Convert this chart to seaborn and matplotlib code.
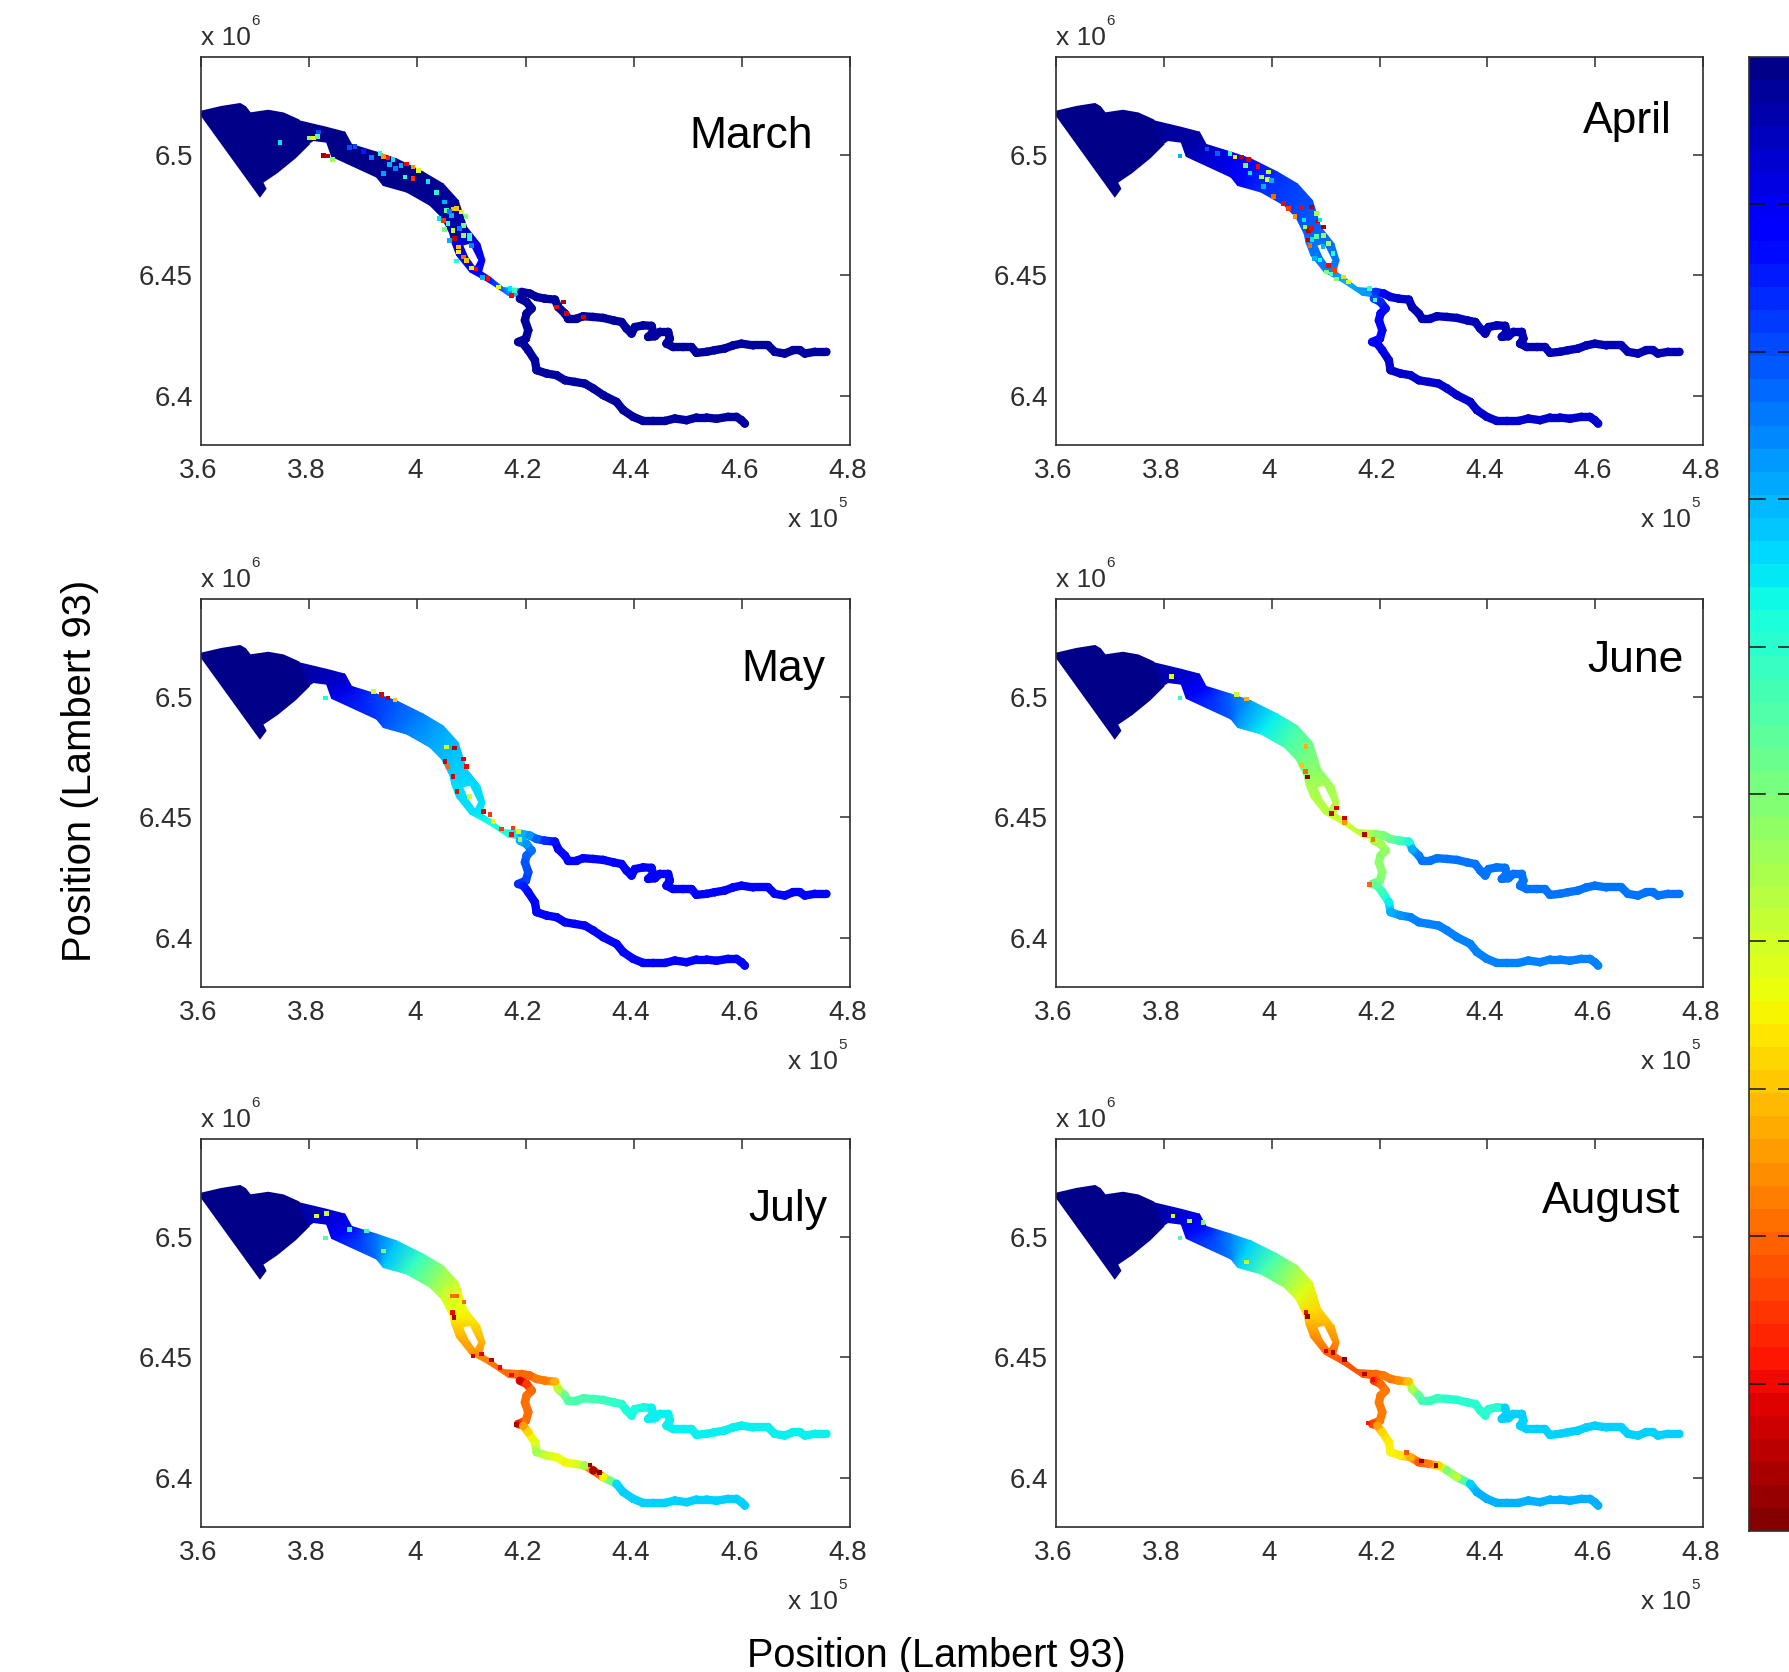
import numpy as np
import pandas as pd
import matplotlib
matplotlib.use('Agg')
import matplotlib.pyplot as plt
import seaborn as sns
from matplotlib.collections import LineCollection
from matplotlib.transforms import ScaledTranslation

W, H = 1790, 1672

months = ['March', 'April', 'May', 'June', 'July', 'August']
x_ticks = [3.6, 3.8, 4.0, 4.2, 4.4, 4.6, 4.8]
x_tick_labels = ['3.6', '3.8', '4', '4.2', '4.4', '4.6', '4.8']
y_ticks = [6.4, 6.45, 6.5]
y_tick_labels = ['6.4', '6.45', '6.5']
cbar_ticks = [0.1, 0.2, 0.3, 0.4, 0.5, 0.6, 0.7, 0.8, 0.9]

# estuary mouth outline (always fully dark)
mouth_x = [3.6, 3.6382, 3.6721, 3.6813, 3.6906, 3.7244, 3.7522, 3.7799, 3.7984, 3.7737, 3.7398, 3.7121, 3.7183, 3.7090, 3.6]
mouth_y = [6.5178, 6.5198, 6.5210, 6.5198, 6.5171, 6.5182, 6.5171, 6.5143, 6.5046, 6.4991, 6.4929, 6.4887, 6.4860, 6.4832, 6.5171]

# estuary cross sections, north bank and south bank
bank_n_x = [3.7799, 3.8322, 3.8661, 3.8784, 3.9246, 3.9616, 4.0109, 4.0478, 4.0756, 4.0910, 4.1158, 4.1250, 4.1189, 4.1343, 4.1589, 4.1897]
bank_n_y = [6.5143, 6.5115, 6.5095, 6.5044, 6.5012, 6.4984, 6.4929, 6.4880, 6.4811, 6.4701, 6.4631, 6.4562, 6.4515, 6.4493, 6.4449, 6.4445]
bank_s_x = [3.7984, 3.8076, 3.8322, 3.8415, 3.9246, 3.9370, 3.9801, 4.0232, 4.0448, 4.0602, 4.0634, 4.0727, 4.0973, 4.1312, 4.1681, 4.1897]
bank_s_y = [6.5046, 6.5060, 6.5053, 6.4994, 6.4908, 6.4873, 6.4846, 6.4791, 6.4742, 6.4673, 6.4638, 6.4583, 6.4514, 6.4472, 6.4417, 6.4410]

island_x = [4.0850, 4.0973, 4.1127, 4.1065, 4.0942]
island_y = [6.4624, 6.4631, 6.4562, 6.4537, 6.4576]

estuary_march = [.01, .01, .01, .01, .01, .01, .015, .02, .03, .05, .08, .1, .12, .15, .25, .35]
estuary_april = [.02, .03, .03, .05, .1, .13, .17, .19, .2, .22, .24, .24, .25, .3, .28, .27]
estuary_may = [.03, .05, .06, .09, .18, .21, .25, .29, .31, .33, .34, .34, .35, .38, .4, .34]
estuary_june = [.03, .06, .08, .12, .22, .28, .36, .44, .48, .52, .55, .56, .58, .6, .58, .55]
estuary_july = [.03, .07, .08, .12, .24, .32, .42, .52, .6, .64, .68, .72, .75, .78, .8, .78]
estuary_august = [.03, .07, .09, .14, .25, .33, .44, .54, .62, .68, .72, .76, .8, .82, .82, .8]

# north branch (Dordogne)
north_x = [4.1928, 4.2082, 4.2205, 4.2359, 4.2544, 4.2605, 4.2729, 4.2790, 4.2944, 4.3067, 4.3252, 4.3437, 4.3622, 4.3776, 4.3868,
           4.3961, 4.4022, 4.4176, 4.4330, 4.4361, 4.4269, 4.4392, 4.4484, 4.4638, 4.4669, 4.4607, 4.4731, 4.4915, 4.5069, 4.5162,
           4.5347, 4.5501, 4.5685, 4.5839, 4.5993, 4.6209, 4.6486, 4.6609, 4.6794, 4.6948, 4.7071, 4.7164, 4.7349, 4.7564]
north_y = [6.4431, 6.4424, 6.4410, 6.4403, 6.4399, 6.4368, 6.4341, 6.4320, 6.4320, 6.4330, 6.4327, 6.4323, 6.4313, 6.4306, 6.4279,
           6.4258, 6.4285, 6.4292, 6.4290, 6.4265, 6.4244, 6.4247, 6.4265, 6.4265, 6.4237, 6.4216, 6.4202, 6.4202, 6.4202, 6.4178,
           6.4182, 6.4189, 6.4196, 6.4209, 6.4216, 6.4209, 6.4209, 6.4182, 6.4175, 6.4189, 6.4189, 6.4175, 6.4182, 6.4182]

# south branch (Garonne)
south_x = [4.1897, 4.2020, 4.2113, 4.2020, 4.1989, 4.2051, 4.2008, 4.1866, 4.1959, 4.2051, 4.2174, 4.2205, 4.2390, 4.2575, 4.2729, 4.2913, 4.3098,
           4.3252, 4.3437, 4.3683, 4.3807, 4.3991, 4.4176, 4.4361, 4.4577, 4.4761, 4.4977, 4.5162, 4.5347, 4.5531, 4.5747, 4.5901, 4.5993, 4.6055]
south_y = [6.4403, 6.4389, 6.4362, 6.4341, 6.4313, 6.4272, 6.4237, 6.4223, 6.4216, 6.4189, 6.4147, 6.4106, 6.4092, 6.4085, 6.4064, 6.4057, 6.4050,
           6.4030, 6.4002, 6.3974, 6.3940, 6.3912, 6.3895, 6.3895, 6.3895, 6.3905, 6.3898, 6.3909, 6.3909, 6.3904, 6.3912, 6.3912, 6.3898, 6.3884]

north_march = [.03] * 44
north_april = [.17, .12, .08, .07, .07] + [.05] * 39
north_may = [.3, .27, .22, .17, .14, .12, .11] + [.11] * 37
north_june = [.52, .5, .47, .44, .38, .3, .25] + [.24] * 37
north_july = [.8, .8, .78, .78, .72, .58, .48, .45, .44, .44, .43, .42, .41, .40, .38, .38, .38, .38] + [.36] * 26
north_august = [.8, .78, .78, .76, .7, .56, .47, .43, .42, .42] + [.4] * 8 + [.33] * 26

south_march = [.03] * 34
south_april = [.2, .16, .14, .13, .13, .12, .12, .11, .1, .09] + [.07] * 24
south_may = [.3, .27, .24, .22, .21, .2, .19, .17, .15, .13] + [.12] * 24
south_june = [.56, .55, .53, .52, .52, .52, .5, .48, .45, .42, .36, .3, .27] + [.25] * 21
south_july = [.92, .85, .8, .79, .79, .79, .79, .88, .74, .68, .62, .55, .6, .63, .65, .62, .55, .96, .65, .34] + [.33] * 14
south_august = [.85, .8, .78, .78, .78, .78, .78, .84, .74, .68, .66, .65, .66, .72, .82, .78, .68, .5, .58, .33] + [.3] * 14

# isolated cells that stand out from their neighbours
cells_march_x = [3.746, 3.801, 3.808, 3.815, 3.817, 3.826, 3.835, 3.843, 3.875, 3.931, 3.938, 3.946, 3.955, 3.949, 3.937, 3.980, 3.992, 4.002, 3.992, 3.977,
                 4.054, 4.072, 4.063, 4.048, 4.069, 4.066, 4.085, 4.097, 4.076, 4.085, 4.066, 4.082, 4.057, 4.085, 4.097, 4.076, 4.091, 4.107, 4.131, 4.150,
                 4.174, 4.180, 4.171, 4.270, 4.257, 4.276, 4.307,
                 3.885, 3.900, 3.915, 3.960, 3.970, 4.020, 4.035, 4.050, 4.060, 4.040, 4.050, 4.060, 4.078, 4.090, 4.100, 4.072, 4.100, 4.120]
cells_march_y = [6.5053, 6.5071, 6.5071, 6.5077, 6.5095, 6.4998, 6.4995, 6.4981, 6.5032, 6.5005, 6.4994, 6.4988, 6.4980, 6.4961, 6.4922, 6.4963, 6.4950, 6.4936, 6.4901, 6.4908,
                 6.4770, 6.4777, 6.4749, 6.4728, 6.4652, 6.4687, 6.4666, 6.4666, 6.4618, 6.4576, 6.4776, 6.4763, 6.4714, 6.4707, 6.4652, 6.4597, 6.4562, 6.4527, 6.4486, 6.4451,
                 6.4417, 6.4438, 6.4445, 6.4389, 6.4368, 6.4341, 6.4327,
                 6.5035, 6.5015, 6.4990, 6.4945, 6.4955, 6.4890, 6.4845, 6.4805, 6.4765, 6.4735, 6.4690, 6.4645, 6.4695, 6.4745, 6.4625, 6.4560, 6.4530, 6.4490]
cells_march_v = [.35, .55, .65, .45, .2, .97, .95, .55, .2, .4, .75, .88, .35, .3, .28, .9, .75, .62, .85, .4,
                 .45, .7, .3, .85, .95, .6, .55, .4, .7, .8, .7, .6, .4, .5, .4, .65, .7, .9, .9, .65,
                 .9, .42, .35, .95, .9, .92, .92,
                 .2, .15, .25, .25, .3, .35, .4, .3, .25, .35, .5, .3, .25, .5, .25, .4, .65, .3]

cells_april_x = [3.830, 3.923, 3.932, 3.944, 3.957, 3.951, 3.975, 3.981, 3.992, 3.994, 4.003, 4.022, 4.031, 4.043, 4.056, 4.074, 4.083, 4.086, 4.096, 4.068,
                 4.074, 4.062, 4.068, 4.071, 4.083, 4.096, 4.105, 4.114, 4.090, 4.105, 4.117, 4.102, 4.133, 4.142, 4.182, 4.192,
                 3.880, 3.900, 3.960, 3.985, 4.000, 4.060, 4.075, 4.090, 4.095, 4.080, 4.110, 4.120]
cells_april_y = [6.4995, 6.5005, 6.4991, 6.4991, 6.4980, 6.4957, 6.4953, 6.4908, 6.4897, 6.4929, 6.4828, 6.4798, 6.4777, 6.4745, 6.4781, 6.4784, 6.4756, 6.4726, 6.4701, 6.4687,
                 6.4694, 6.4701, 6.4646, 6.4625, 6.4660, 6.4666, 6.4632, 6.4590, 6.4563, 6.4542, 6.4521, 6.4514, 6.4493, 6.4473, 6.4445, 6.4397,
                 6.5025, 6.5005, 6.4925, 6.4870, 6.4895, 6.4730, 6.4650, 6.4730, 6.4620, 6.4570, 6.4505, 6.4485]
cells_april_v = [.3, .4, .65, .95, .93, .5, .9, .55, .62, .6, .8, .9, .85, .75, .9, .95, .55, .92, .97, .95,
                 .9, .55, .95, .8, .45, .55, .55, .4, .38, .9, .85, .5, .68, .62, .42, .42,
                 .2, .22, .35, .3, .3, .35, .35, .35, .3, .3, .45, .5]

cells_may_x = [3.830, 3.919, 3.934, 3.946, 3.959, 4.054, 4.069, 4.085, 4.091, 4.051, 4.057, 4.066, 4.073, 4.097, 4.122, 4.134, 4.140, 4.156, 4.177, 4.187, 4.174, 4.190]
cells_may_y = [6.4995, 6.5023, 6.5009, 6.4995, 6.4988, 6.4792, 6.4788, 6.4742, 6.4711, 6.4732, 6.4711, 6.4670, 6.4608, 6.4587, 6.4525, 6.4511, 6.4483, 6.4451, 6.4456, 6.4442, 6.4428, 6.4407]
cells_may_v = [.38, .6, .92, .95, .7, .62, .95, .92, .9, .93, .8, .92, .9, .6, .92, .85, .65, .85, .85, .6, .9, .55]

cells_june_x = [3.830, 3.814, 3.953, 3.935, 4.064, 4.055, 4.063, 4.067, 4.120, 4.111, 4.135, 4.135, 4.172, 4.188, 4.182]
cells_june_y = [6.4995, 6.5085, 6.4991, 6.5009, 6.4794, 6.4718, 6.4691, 6.4667, 6.4539, 6.4515, 6.4497, 6.4479, 6.4428, 6.4407, 6.4221]
cells_june_v = [.42, .62, .72, .6, .72, .7, .8, .98, .92, .93, .93, .75, .95, .78, .8]

cells_july_x = [3.830, 4.065, 4.073, 4.086, 4.065, 4.068, 4.103, 4.119, 4.137, 4.153, 4.190, 4.174, 4.183, 4.319, 4.337, 3.814, 3.832, 3.875, 3.906, 3.937]
cells_july_y = [6.4995, 6.4755, 6.4755, 6.4730, 6.4686, 6.4665, 6.4506, 6.4513, 6.4489, 6.4458, 6.4409, 6.4426, 6.4222, 6.4052, 6.4022, 6.5087, 6.5097, 6.5032, 6.5025, 6.4942]
cells_july_v = [.45, .8, .8, .8, .9, .95, .93, .92, .95, .9, .93, .9, .95, .97, 1.0, .62, .6, .4, .42, .5]

cells_august_x = [3.830, 3.817, 3.848, 3.873, 3.953, 4.064, 4.067, 4.101, 4.114, 4.135, 4.172, 4.188, 4.179, 4.278, 4.305, 4.250]
cells_august_y = [6.4995, 6.5087, 6.5066, 6.5059, 6.4896, 6.4686, 6.4669, 6.4527, 6.4520, 6.4492, 6.4430, 6.4409, 6.4227, 6.4070, 6.4050, 6.4105]
cells_august_v = [.45, .62, .55, .5, .6, .9, .98, .92, .95, .98, .95, .9, .88, .98, .97, .82]

estuary_values = [estuary_march, estuary_april, estuary_may, estuary_june, estuary_july, estuary_august]
north_values = [north_march, north_april, north_may, north_june, north_july, north_august]
south_values = [south_march, south_april, south_may, south_june, south_july, south_august]
cells = [(cells_march_x, cells_march_y, cells_march_v), (cells_april_x, cells_april_y, cells_april_v),
         (cells_may_x, cells_may_y, cells_may_v), (cells_june_x, cells_june_y, cells_june_v),
         (cells_july_x, cells_july_y, cells_july_v), (cells_august_x, cells_august_y, cells_august_v)]

sns.set_style('white')
plt.rcParams['font.family'] = ['Liberation Sans', 'DejaVu Sans']

DARK = '#2e2e2e'
JET = plt.get_cmap('jet')
fig = plt.figure(figsize=(W / 100, H / 100), dpi=100)
fig.patch.set_facecolor('white')


def put_axes(left, top, right, bottom):
    return fig.add_axes([left / W, 1 - bottom / H, (right - left) / W, (bottom - top) / H])


def put_text(x, y, s, **kw):
    fig.text(x / W, 1 - y / H, s, **kw)


def draw_river(ax, xs, ys, vals):
    pts = np.column_stack([xs, ys])
    segs = np.stack([pts[:-1], pts[1:]], axis=1)
    vals = np.array(vals)
    lc = LineCollection(segs, cmap=JET, norm=plt.Normalize(0, 1), linewidths=6, capstyle='round', zorder=3)
    lc.set_array((vals[:-1] + vals[1:]) / 2)
    ax.add_collection(lc)
    sns.scatterplot(x=xs, y=ys, hue=vals, palette=JET, hue_norm=(0, 1), s=36, linewidth=0,
                    legend=False, ax=ax, zorder=3.1)


def draw_panel(ax, i):
    ax.fill(mouth_x, mouth_y, color=JET(0.01), lw=2, zorder=2)
    mesh_x = np.array([bank_n_x, bank_s_x])
    mesh_y = np.array([bank_n_y, bank_s_y])
    mesh_c = np.array([estuary_values[i], estuary_values[i]])
    ax.pcolormesh(mesh_x, mesh_y, mesh_c, cmap='jet', vmin=0, vmax=1, shading='gouraud', zorder=2)
    ax.fill(island_x, island_y, color='white', lw=0, zorder=2.5)

    draw_river(ax, north_x, north_y, north_values[i])
    draw_river(ax, south_x, south_y, south_values[i])

    spot = pd.DataFrame({'x': cells[i][0], 'y': cells[i][1], 'v': cells[i][2]})
    sns.scatterplot(data=spot, x='x', y='y', hue='v', palette=JET, hue_norm=(0, 1), s=11, marker='s',
                    linewidth=0, legend=False, ax=ax, zorder=4)

    ax.set_xlim(3.6, 4.8)
    ax.set_ylim(6.3795, 6.5407)
    ax.set_xticks(x_ticks)
    ax.set_xticklabels(x_tick_labels)
    ax.set_yticks(y_ticks)
    ax.set_yticklabels(y_tick_labels)
    ax.set_xlabel('')
    ax.set_ylabel('')
    ax.tick_params(direction='in', top=True, right=True, length=7, width=1.1, color=DARK,
                   labelcolor=DARK, labelsize=20)
    ax.tick_params(axis='x', pad=9)
    ax.tick_params(axis='y', pad=6)
    shift = ScaledTranslation(-0.025, 0, fig.dpi_scale_trans)
    for lab in ax.get_xticklabels():
        lab.set_transform(lab.get_transform() + shift)
    for s in ax.spines.values():
        s.set_visible(True)
        s.set_linewidth(1.2)
        s.set_color(DARK)


lefts = [201, 1056]
rights = [850, 1703]
tops = [57, 599, 1139]
label_pos = [(751, 136), (1627, 122), (783, 669), (1636, 661), (788, 1209), (1611, 1202)]

for i, month in enumerate(months):
    row, col = i // 2, i % 2
    l, r, t = lefts[col], rights[col], tops[row]
    b = t + 388
    ax = put_axes(l, t, r, b)
    draw_panel(ax, i)
    put_text(label_pos[i][0], label_pos[i][1], month, fontsize=32, ha='center', va='center', color='black')
    # matlab style multipliers
    put_text(l, t - 12, 'x 10', fontsize=19, color=DARK, va='baseline')
    put_text(l + 50, t - 32, '6', fontsize=11, color=DARK, va='baseline')
    put_text(r - 62, b + 82, 'x 10', fontsize=19, color=DARK, va='baseline')
    put_text(r - 12, b + 62, '5', fontsize=11, color=DARK, va='baseline')

put_text(936, 1656, 'Position (Lambert 93)', fontsize=28.5, ha='center', va='center', color='black')
put_text(80, 771, 'Position (Lambert 93)', fontsize=28.8, ha='center', va='center', rotation=90, color='black')

# colour bar, cut by the right edge of the image
cax = put_axes(1749, 57, 1791, 1531)
levels = (np.arange(64) + 0.5) / 64
sns.heatmap(levels.reshape(-1, 1), cmap='jet', vmin=0, vmax=1, cbar=False, ax=cax,
            xticklabels=False, yticklabels=False)
cax.hlines([v * 64 for v in cbar_ticks], 0, 1, colors='#111111', linewidth=1.1,
           linestyles=[(0, (11, 8))])
for s in ['left', 'top', 'bottom']:
    cax.spines[s].set_visible(True)
    cax.spines[s].set_linewidth(1.2)
    cax.spines[s].set_color(DARK)

fig.savefig('out.png', dpi=100, facecolor='white')
